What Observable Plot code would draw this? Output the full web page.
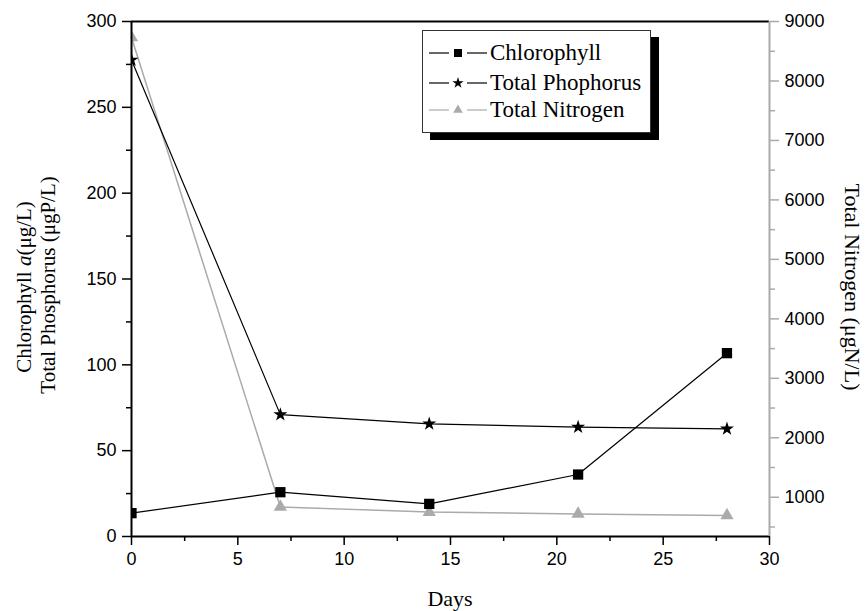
<!DOCTYPE html>
<html><head><meta charset="utf-8">
<script src="https://cdn.jsdelivr.net/npm/d3@7"></script>
<script src="https://cdn.jsdelivr.net/npm/@observablehq/plot@0.6"></script>
<style>
body{margin:0;background:#fff}
#wrap{position:relative;width:867px;height:611px}
.legend{position:absolute;left:422px;top:30px;width:227px;height:101px;border:1px solid #333;background:#fff;box-shadow:8px 7px 0 #000;font-family:"Liberation Serif","Times New Roman",serif;font-size:23px;color:#000}
.row{position:absolute;left:6px;height:28px;display:flex;align-items:center;white-space:nowrap}
.row svg{display:block;margin-right:3px}
</style></head><body><div id="wrap"></div>
<script>
// ---- data ----
const days = [0, 7, 14, 21, 28];
const chlorophyll = [13.6, 25.8, 19.0, 36.1, 106.8];
const phosphorus = [277.6, 71.0, 65.6, 63.7, 62.7];
const nitrogen = [8730, 837, 750, 720, 694];
const xTicks = [0, 5, 10, 15, 20, 25, 30];
const xMinor = [2.5, 7.5, 12.5, 17.5, 22.5, 27.5];
const yTicks = [0, 50, 100, 150, 200, 250, 300];
const yMinor = [25, 75, 125, 175, 225, 275];
const nTicks = [1000, 2000, 3000, 4000, 5000, 6000, 7000, 8000, 9000];
const nMinor = [500, 1500, 2500, 3500, 4500, 5500, 6500, 7500, 8500];
const nDomain = [340, 9000];
const seriesNames = ["Chlorophyll", "Total Phophorus", "Total Nitrogen"];

const gray = "#aaaaaa";
const toLeft = d3.scaleLinear().domain(nDomain).range([0, 300]);
const rows = days.map((d, i) => ({day: d, chl: chlorophyll[i], tp: phosphorus[i], tn: nitrogen[i]}));

const chart = Plot.plot({
  width: 867, height: 611,
  marginLeft: 131, marginRight: 98, marginTop: 21, marginBottom: 75,
  style: {fontFamily: "'Liberation Sans', Arial, sans-serif", fontSize: "18px", color: "#000", background: "#fff"},
  x: {domain: [0, 30], label: null},
  y: {domain: [0, 300], label: null},
  marks: [
    Plot.axisX({ticks: xTicks, tickSize: 9, tickPadding: 7, strokeWidth: 1.5, label: null}),
    Plot.axisX({ticks: xMinor, tickSize: 5, strokeWidth: 1.5, tickFormat: () => "", label: null}),
    Plot.axisY({ticks: yTicks, tickSize: 9, tickPadding: 6, strokeWidth: 1.5, label: null}),
    Plot.axisY({ticks: yMinor, tickSize: 5, strokeWidth: 1.5, tickFormat: () => "", label: null}),
    Plot.axisY({anchor: "right", ticks: nTicks.map(toLeft), tickSize: 9, tickPadding: 6, stroke: gray, strokeWidth: 1.5,
      tickFormat: d => String(Math.round(toLeft.invert(d))), label: null}),
    Plot.axisY({anchor: "right", ticks: nMinor.map(toLeft), tickSize: 5, stroke: gray, strokeWidth: 1.5, tickFormat: () => "", label: null}),
    Plot.line(rows, {x: "day", y: d => toLeft(d.tn), stroke: gray, strokeWidth: 1.5}),
    Plot.line(rows, {x: "day", y: "tp", stroke: "#000", strokeWidth: 1.2}),
    Plot.line(rows, {x: "day", y: "chl", stroke: "#000", strokeWidth: 1.2}),
    Plot.dot(rows, {x: "day", y: d => toLeft(d.tn), symbol: "triangle", r: 4.9, fill: gray, clip: "frame"}),
    Plot.dot(rows, {x: "day", y: "tp", symbol: "star", r: 4.4, fill: "#000", clip: "frame"}),
    Plot.dot(rows, {x: "day", y: "chl", symbol: "square", r: 5.8, fill: "#000", clip: "frame"}),
    Plot.ruleY([300], {stroke: "#000", strokeWidth: 2}),
    Plot.ruleY([0], {stroke: "#000", strokeWidth: 2}),
    Plot.ruleX([0], {stroke: "#000", strokeWidth: 2}),
    Plot.ruleX([30], {stroke: gray, strokeWidth: 2})
  ]
});

const wrap = document.getElementById("wrap");
wrap.appendChild(chart);

// axis titles
const svg = d3.select(chart);
const serif = "'Liberation Serif','Times New Roman',serif";
const t1 = svg.append("text").attr("transform", "translate(24,287) rotate(-90)")
  .attr("text-anchor", "middle").attr("dominant-baseline", "central")
  .style("font-family", serif).style("font-size", "21px").attr("fill", "#000");
t1.append("tspan").text("Chlorophyll ");
t1.append("tspan").style("font-style", "italic").text("a");
t1.append("tspan").text("(μg/L)");
svg.append("text").attr("transform", "translate(48,285) rotate(-90)")
  .attr("text-anchor", "middle").attr("dominant-baseline", "central")
  .style("font-family", serif).style("font-size", "21px").attr("fill", "#000")
  .text("Total Phosphorus (μgP/L)");
svg.append("text").attr("transform", "translate(852,287) rotate(90)")
  .attr("text-anchor", "middle").attr("dominant-baseline", "central")
  .style("font-family", serif).style("font-size", "22px").attr("fill", "#000")
  .text("Total Nitrogen (μgN/L)");
svg.append("text").attr("x", 450).attr("y", 598)
  .attr("text-anchor", "middle").attr("dominant-baseline", "central")
  .style("font-family", serif).style("font-size", "22px").attr("fill", "#000")
  .text("Days");

// legend
const legend = document.createElement("div");
legend.className = "legend";
const sym = [
  {color: "#000", path: d3.symbol(d3.symbolSquare, 64)()},
  {color: "#000", path: d3.symbol(d3.symbolStar, 40)()},
  {color: gray, path: d3.symbol(d3.symbolTriangle, 40)()}
];
const rowTops = [8, 38, 65];
seriesNames.forEach((name, i) => {
  const r = document.createElement("div");
  r.className = "row";
  r.style.top = rowTops[i] + "px";
  r.innerHTML = `<svg width="58" height="20"><line x1="0" x2="20" y1="10" y2="10" stroke="${sym[i].color}" stroke-width="1.2"/><line x1="38" x2="58" y1="10" y2="10" stroke="${sym[i].color}" stroke-width="1.2"/><path transform="translate(29,10)" d="${sym[i].path}" fill="${sym[i].color}"/></svg><span>${name}</span>`;
  legend.appendChild(r);
});
wrap.appendChild(legend);
</script>
</body></html>
